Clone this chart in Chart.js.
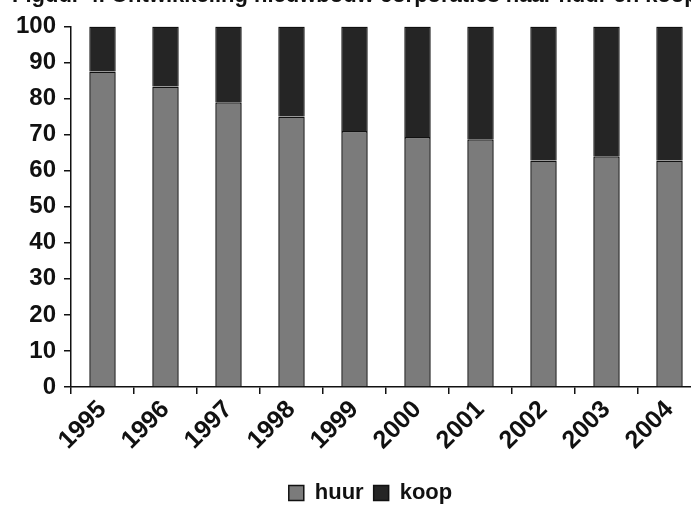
<!DOCTYPE html>
<html>
<head>
<meta charset="utf-8">
<script src="https://cdn.jsdelivr.net/npm/chart.js@4.4.0/dist/chart.umd.min.js"></script>
<style>
  html, body { margin: 0; padding: 0; background: #fff; overflow: hidden; width: 691px; height: 511px; }
  #wrap { position: absolute; left: 0; top: -17px; width: 701px; height: 531px; }
</style>
</head>
<body>
<div id="wrap"><canvas id="c" width="701" height="531"></canvas></div>
<script>
const titleText = "Figuur 4. Ontwikkeling nieuwbouw corporaties naar huur en koop";
const categories = ["1995", "1996", "1997", "1998", "1999", "2000", "2001", "2002", "2003", "2004"];
const huur = [87.5, 83.3, 79, 75, 71, 69.3, 68.7, 62.8, 64, 62.8];
const koop = [12.5, 16.7, 21, 25, 29, 30.7, 31.3, 37.2, 36, 37.2];
const yTicks = [0, 10, 20, 30, 40, 50, 60, 70, 80, 90, 100];

const FONT = "'Liberation Sans', Arial, sans-serif";

const legendShift = {
  id: 'legendShift',
  afterLayout(chart) {
    if (chart.legend) { chart.legend.left += 14; chart.legend.right += 14; }
  }
};

new Chart(document.getElementById('c'), {
  type: 'bar',
  plugins: [legendShift],
  data: {
    labels: categories,
    datasets: [
      { label: 'huur', data: huur, backgroundColor: '#7b7b7b', borderColor: '#111', borderWidth: 1.5, barPercentage: 0.42, categoryPercentage: 1 },
      { label: 'koop', data: koop, backgroundColor: '#252525', borderColor: '#111', borderWidth: 1.5, barPercentage: 0.42, categoryPercentage: 1 }
    ]
  },
  options: {
    responsive: false,
    animation: false,
    layout: { padding: { left: 12, right: 0, top: 0, bottom: 0 } },
    plugins: {
      title: {
        display: true, text: titleText, align: 'start', color: '#111',
        font: { family: FONT, size: 22, weight: 'bold' },
        padding: { top: 0, bottom: 17 }
      },
      legend: {
        display: true, position: 'bottom', align: 'center',
        labels: {
          color: '#111', boxWidth: 15, boxHeight: 15, padding: 10,
          font: { family: FONT, size: 22, weight: 'bold' }
        }
      },
      tooltip: { enabled: false }
    },
    scales: {
      x: {
        stacked: true,
        afterFit: (s) => { s.height = 85; },
        grid: { display: true, drawOnChartArea: false, drawTicks: true, tickLength: 7, color: '#111', lineWidth: 1.5 },
        border: { display: true, color: '#111', width: 1.5 },
        ticks: { color: '#111', minRotation: 45, maxRotation: 45, padding: 1, font: { family: FONT, size: 25, weight: 'bold' } }
      },
      y: {
        stacked: true, min: 0, max: 100,
        afterFit: (s) => { s.width = 59; },
        afterBuildTicks: (s) => { s.ticks = yTicks.map(v => ({ value: v })); },
        grid: { display: true, drawOnChartArea: false, drawTicks: true, tickLength: 7, color: '#111', lineWidth: 1.5 },
        border: { display: true, color: '#111', width: 1.5 },
        ticks: { color: '#111', padding: 8, font: { family: FONT, size: 24, weight: 'bold' } }
      }
    }
  }
});
</script>
</body>
</html>
